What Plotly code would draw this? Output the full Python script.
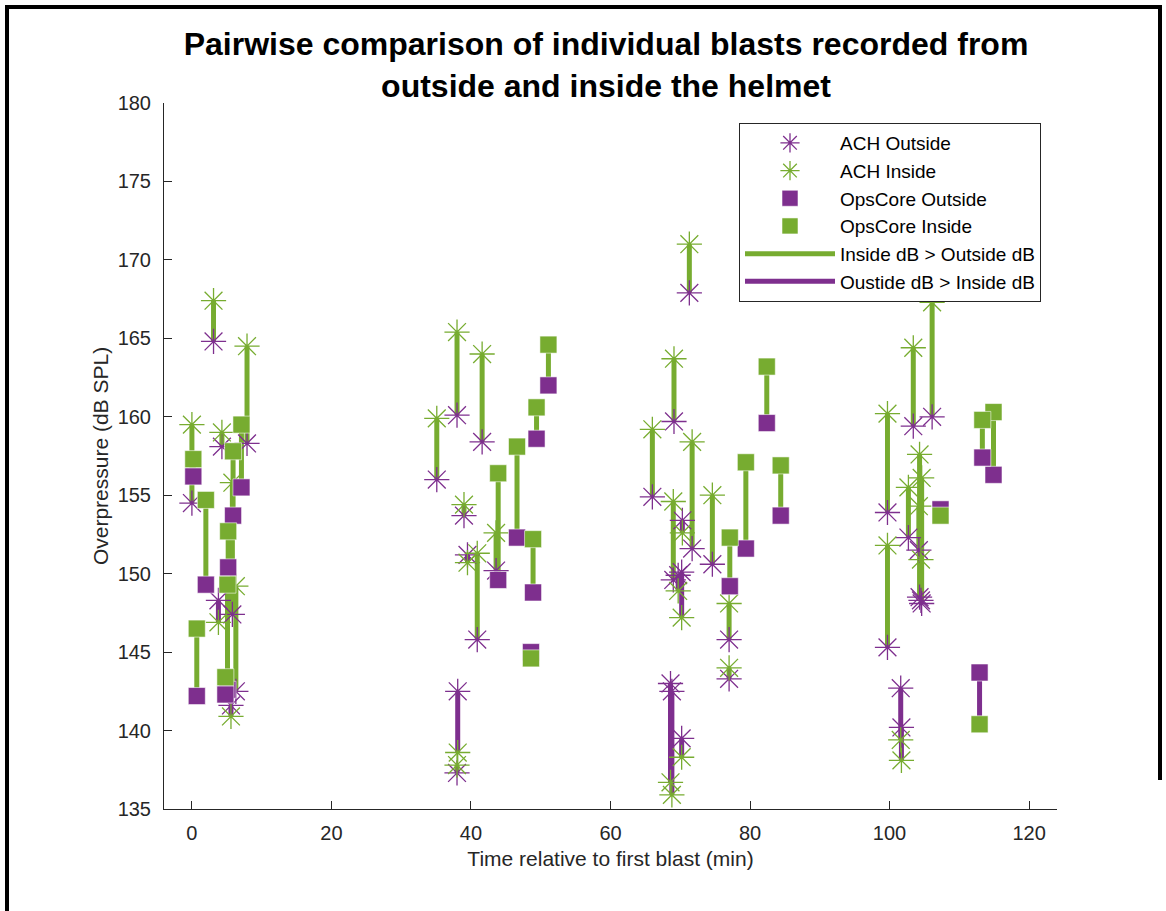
import plotly.graph_objects as go

# ---------------- data ----------------
# ACH helmet: time (min), outside dB, inside dB
ach_time = [0.0, 3.1, 4.3, 7.9, 3.8, 5.8, 6.3, 5.6,
            35.1, 38.0, 41.6, 39.0, 39.5, 40.9, 43.6, 38.1, 38.0,
            71.3, 69.1, 66.0, 71.7, 74.6, 69.0, 70.3, 70.2, 69.7, 77.0, 77.0, 68.6, 68.8, 70.2,
            99.7, 99.7, 103.4, 106.1, 104.3, 104.6, 102.7, 104.2, 104.5, 101.6, 101.7]
ach_outside = [154.5, 164.8, 158.1, 158.3, 148.3, 147.4, 142.5, 141.6,
               156.0, 160.1, 158.4, 153.7, 151.2, 145.8, 150.2, 142.5, 137.3,
               167.9, 159.7, 154.9, 151.6, 150.6, 149.6, 153.4, 150.1, 149.9, 145.8, 143.3, 143.0, 142.5, 139.5,
               153.9, 145.3, 159.4, 160.0, 148.5, 148.1, 152.3, 151.5, 148.3, 142.7, 140.2]
ach_inside = [159.5, 167.4, 159.0, 164.5, 146.9, 155.8, 149.2, 140.9,
              159.9, 165.4, 164.0, 154.4, 150.7, 151.3, 152.6, 138.6, 137.8,
              171.0, 163.7, 159.2, 158.4, 155.0, 154.6, 152.6, 147.2, 148.9, 148.1, 144.0, 136.7, 135.9, 138.3,
              160.2, 151.8, 164.4, 167.3, 157.6, 156.1, 155.5, 154.3, 150.9, 139.4, 138.1]

# OpsCore helmet: time (min), outside dB, inside dB
ops_time = [0.2, 0.7, 2.0, 7.1, 5.9, 5.2, 5.1, 4.8,
            51.1, 49.4, 46.6, 43.9, 48.9, 48.6,
            82.4, 79.4, 84.4, 77.1,
            107.3, 114.9, 113.3, 112.9]
ops_outside = [156.2, 142.2, 149.3, 155.5, 153.7, 150.4, 142.6, 142.3,
               162.0, 158.6, 152.3, 149.6, 148.8, 145.0,
               159.6, 151.6, 153.7, 149.2,
               154.1, 156.3, 157.4, 143.7]
ops_inside = [157.3, 146.5, 154.7, 159.5, 157.8, 152.7, 149.3, 143.4,
              164.6, 160.6, 158.1, 156.4, 152.2, 144.6,
              163.2, 157.1, 156.9, 152.3,
              153.7, 160.3, 159.8, 140.4]

x_ticks = [0, 20, 40, 60, 80, 100, 120]
y_ticks = [135, 140, 145, 150, 155, 160, 165, 170, 175, 180]

title_text = "Pairwise comparison of individual blasts recorded from<br>outside and inside the helmet"
x_label = "Time relative to first blast (min)"
y_label = "Overpressure (dB SPL)"

PURPLE = "#7E2F8E"
GREEN = "#77AC30"
AXC = "#262626"
FONT = "Liberation Sans, Arial, sans-serif"

# ---------------- connecting segments ----------------
gx, gy, px_, py_ = [], [], [], []
for t, o, i in list(zip(ach_time, ach_outside, ach_inside)) + list(zip(ops_time, ops_outside, ops_inside)):
    if i > o:
        gx += [t, t, None]
        gy += [o, i, None]
    else:
        px_ += [t, t, None]
        py_ += [o, i, None]

fig = go.Figure()
fig.add_trace(go.Scatter(x=gx, y=gy, mode="lines", name="Inside dB > Outside dB",
                         line=dict(color=GREEN, width=5), legendrank=5))
fig.add_trace(go.Scatter(x=px_, y=py_, mode="lines", name="Oustide dB > Inside dB",
                         line=dict(color=PURPLE, width=5), legendrank=6))

star = dict(symbol="asterisk-open", size=21)
fig.add_trace(go.Scatter(x=ach_time, y=ach_outside, mode="markers", name="ACH Outside",
                         marker=dict(**star, color=PURPLE, line=dict(color=PURPLE, width=1.3)),
                         legendrank=1))
fig.add_trace(go.Scatter(x=ach_time, y=ach_inside, mode="markers", name="ACH Inside",
                         marker=dict(**star, color=GREEN, line=dict(color=GREEN, width=1.3)),
                         legendrank=2))
fig.add_trace(go.Scatter(x=ops_time, y=ops_outside, mode="markers", name="OpsCore Outside",
                         marker=dict(symbol="square", size=17, color=PURPLE,
                                     line=dict(color="rgba(255,255,255,0.55)", width=1)),
                         legendrank=3))
fig.add_trace(go.Scatter(x=ops_time, y=ops_inside, mode="markers", name="OpsCore Inside",
                         marker=dict(symbol="square", size=17, color=GREEN,
                                     line=dict(color="rgba(255,255,255,0.55)", width=1)),
                         legendrank=4))

W, H = 1166, 911
L, R, T, B = 164, 109, 103, 102
pw, ph = W - L - R, H - T - B

def px2paper_x(p):
    return (p - L) / pw

def px2paper_y(p):
    return (H - B - p) / ph

# outer figure frame (left, top, right)
frame = dict(color="black", width=4)
shapes = [
    dict(type="line", xref="paper", yref="paper", x0=px2paper_x(7), x1=px2paper_x(7),
         y0=px2paper_y(5), y1=px2paper_y(H + 5), line=frame),
    dict(type="line", xref="paper", yref="paper", x0=px2paper_x(5), x1=px2paper_x(1162),
         y0=px2paper_y(7), y1=px2paper_y(7), line=frame),
    dict(type="line", xref="paper", yref="paper", x0=px2paper_x(1160), x1=px2paper_x(1160),
         y0=px2paper_y(5), y1=px2paper_y(780), line=frame),
]

fig.update_layout(
    width=W, height=H,
    margin=dict(l=L, r=R, t=T, b=B),
    paper_bgcolor="white", plot_bgcolor="white",
    font=dict(family=FONT, color=AXC, size=20),
    title=dict(text=title_text, x=px2paper_x(606), xref="paper", xanchor="center",
               y=1 - 55 / H, yanchor="middle",
               font=dict(family=FONT, size=32, color="black", weight="bold")),
    showlegend=True,
    legend=dict(x=px2paper_x(1041), y=px2paper_y(123), xanchor="right", yanchor="top",
                bgcolor="white", bordercolor=AXC, borderwidth=1,
                font=dict(family=FONT, size=19, color="black"),
                tracegroupgap=0, itemwidth=90),
    shapes=shapes,
)
fig.update_xaxes(range=[-4, 124], tickvals=x_ticks, showgrid=False, zeroline=False,
                 showline=True, linecolor=AXC, linewidth=1, ticks="inside", ticklen=8,
                 tickcolor=AXC, tickfont=dict(size=20, color=AXC), ticklabelstandoff=6,
                 title=dict(text=x_label, font=dict(size=21, color=AXC), standoff=8))
fig.update_yaxes(range=[135, 180], tickvals=y_ticks, showgrid=False, zeroline=False,
                 showline=True, linecolor=AXC, linewidth=1, ticks="inside", ticklen=8,
                 tickcolor=AXC, tickfont=dict(size=20, color=AXC), ticklabelstandoff=8,
                 title=dict(text=y_label, font=dict(size=21, color=AXC), standoff=3))

fig.write_html("out.html", config={"displayModeBar": False},
               post_script="document.body.style.margin='0px';document.body.style.overflow='hidden';")
